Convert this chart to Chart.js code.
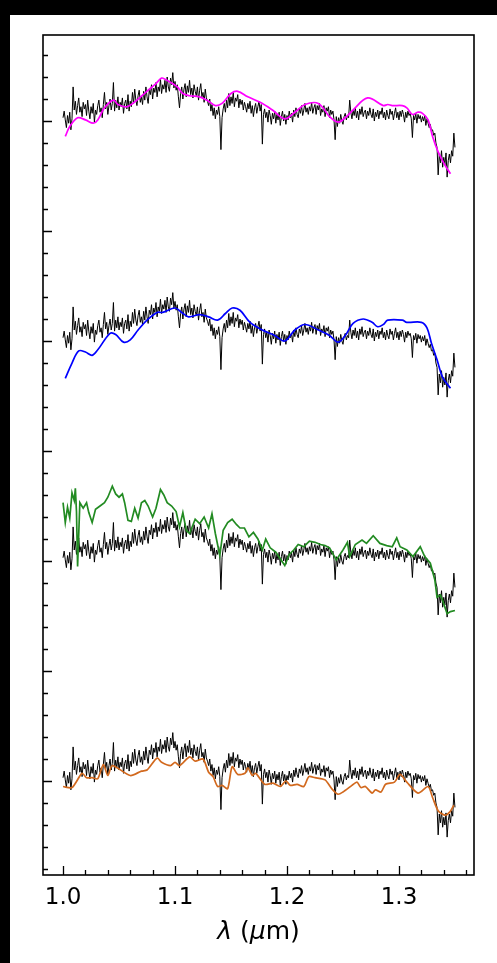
<!DOCTYPE html>
<html>
<head>
<meta charset="utf-8">
<script src="https://cdn.jsdelivr.net/npm/chart.js@4/dist/chart.umd.min.js"></script>
<style>
  html, body { margin: 0; padding: 0; background: #000; }
  #wrap { position: absolute; left: 10px; top: 15px; width: 487px; height: 948px; background: #fff; }
</style>
</head>
<body>
<div id="wrap"><canvas id="spec" width="487" height="948"></canvas></div>
<script>
// observed spectrum, sampled every 0.001 um from 1.000 um (one row per 0.01 um)
const obsStart = 1.0;
const obsStep = 0.001;
const obsFlux = [
  0.03, 0.09, 0.01, -0.06, 0.05, -0.02, 0.08, -0.08, 0.02, 0.31,
  0.10, 0.18, 0.06, 0.14, 0.21, 0.08, 0.13, 0.04, 0.17, 0.11,
  0.15, 0.05, 0.19, 0.09, 0.02, 0.13, 0.07, 0.16, -0.01, 0.10,
  0.06, 0.14, 0.19, 0.08, 0.12, 0.03, 0.15, 0.26, 0.11, 0.17,
  0.06, 0.14, 0.20, 0.10, 0.16, 0.35, 0.09, 0.19, 0.12, 0.22,
  0.10, 0.17, 0.13, 0.21, 0.07, 0.16, 0.19, 0.11, 0.24, 0.09,
  0.18, 0.13, 0.26, 0.16, 0.29, 0.19, 0.14, 0.23, 0.28, 0.17,
  0.22, 0.15, 0.27, 0.19, 0.31, 0.22, 0.16, 0.28, 0.24, 0.33,
  0.20, 0.30, 0.26, 0.35, 0.22, 0.31, 0.27, 0.38, 0.25, 0.33,
  0.29, 0.37, 0.26, 0.40, 0.31, 0.27, 0.39, 0.33, 0.44, 0.30,
  0.36, 0.28, 0.33, 0.22, 0.12, 0.25, 0.31, 0.20, 0.29, 0.34,
  0.22, 0.32, 0.26, 0.37, 0.24, 0.30, 0.21, 0.33, 0.27, 0.23,
  0.31, 0.19, 0.28, 0.34, 0.22, 0.26, 0.17, 0.29, 0.21, 0.18,
  0.14, 0.20, 0.09, 0.15, 0.05, 0.12, 0.02, 0.10, 0.06, 0.13,
  0.04, -0.26, 0.03, 0.11, 0.16, 0.08, 0.19, 0.12, 0.25, 0.14,
  0.22, 0.16, 0.26, 0.13, 0.21, 0.18, 0.24, 0.12, 0.20, 0.15,
  0.19, 0.10, 0.17, 0.13, 0.08, 0.16, 0.11, 0.18, 0.07, 0.14,
  0.04, 0.12, 0.16, 0.07, 0.13, 0.18, 0.09, 0.15, -0.21, 0.06,
  0.11, 0.03, 0.08, -0.01, 0.10, 0.05, -0.03, 0.07, 0.02, 0.09,
  -0.02, 0.06, 0.01, 0.08, -0.04, 0.04, 0.09, 0.00, 0.06, -0.03,
  0.05, 0.01, 0.09, 0.03, 0.07, -0.01, 0.10, 0.04, 0.12, 0.06,
  0.03, 0.11, 0.07, 0.14, 0.05, 0.10, 0.16, 0.08, 0.12, 0.06,
  0.13, 0.09, 0.17, 0.07, 0.12, 0.15, 0.06, 0.14, 0.10, 0.16,
  0.05, 0.11, 0.08, 0.14, 0.04, 0.12, 0.09, 0.13, 0.03, 0.10,
  0.06, 0.09, 0.01, -0.17, 0.04, -0.05, 0.03, -0.02, 0.06, 0.00,
  -0.03, 0.04, 0.07, 0.01, 0.05, 0.03, 0.19, 0.08, 0.02, 0.10,
  0.05, 0.12, 0.03, 0.09, 0.01, 0.11, 0.06, 0.13, 0.04, 0.08,
  0.10, 0.02, 0.09, 0.05, 0.12, 0.06, 0.03, 0.11, 0.00, 0.08,
  0.04, 0.10, 0.02, 0.09, 0.06, 0.12, 0.03, 0.08, 0.01, 0.10,
  0.05, 0.02, 0.11, 0.06, 0.09, 0.01, 0.07, 0.12, 0.03, 0.08,
  0.01, 0.09, 0.04, 0.10, 0.06, -0.01, 0.08, 0.03, 0.09, 0.05,
  0.07, 0.02, -0.15, 0.05, 0.01, 0.07, -0.02, 0.06, 0.02, 0.05,
  -0.01, 0.04, 0.00, 0.05, -0.04, 0.02, -0.02, -0.06, -0.03, -0.09,
  -0.08, -0.13, -0.11, -0.20, -0.24, -0.49, -0.30, -0.38, -0.27, -0.42,
  -0.33, -0.40, -0.29, -0.51, -0.36, -0.30, -0.38, -0.27, -0.32, -0.11, -0.24
];

// model spectra (wavelength in um, flux before offset)
const magentaWave = [1.002, 1.006, 1.013, 1.020, 1.027, 1.031, 1.037, 1.045, 1.049, 1.057,
  1.066, 1.076, 1.082, 1.088, 1.091, 1.102, 1.107, 1.113, 1.122, 1.130, 1.136, 1.142, 1.150,
  1.156, 1.165, 1.176, 1.187, 1.198, 1.207, 1.216, 1.228, 1.238, 1.2455, 1.252, 1.258, 1.272,
  1.286, 1.290, 1.294, 1.303, 1.307, 1.312, 1.317, 1.321, 1.326, 1.330, 1.335, 1.341, 1.346];
const magentaFlux = [-0.14, -0.05, 0.03, 0.01, -0.02, 0.01, 0.12, 0.19, 0.15, 0.13,
  0.19, 0.28, 0.33, 0.39, 0.38, 0.31, 0.25, 0.23, 0.22, 0.18, 0.14, 0.16, 0.25,
  0.27, 0.22, 0.17, 0.10, 0.02, 0.08, 0.15, 0.16, 0.04, -0.01, 0.03, 0.09, 0.21,
  0.14, 0.15, 0.14, 0.14, 0.12, 0.06, 0.08, 0.07, 0.01, -0.14, -0.28, -0.40, -0.48];

const blueWave = [1.002, 1.008, 1.014, 1.020, 1.026, 1.031, 1.042, 1.047, 1.054, 1.060,
  1.067, 1.075, 1.084, 1.089, 1.100, 1.106, 1.112, 1.122, 1.130, 1.138, 1.145, 1.151, 1.158,
  1.167, 1.178, 1.189, 1.198, 1.207, 1.216, 1.228, 1.238, 1.2455, 1.252, 1.259, 1.268, 1.276,
  1.281, 1.286, 1.290, 1.303, 1.307, 1.320, 1.325, 1.329, 1.334, 1.339, 1.346];
const blueFlux = [-0.34, -0.20, -0.09, -0.10, -0.13, -0.08, 0.07, 0.06, -0.01, 0.01,
  0.10, 0.19, 0.26, 0.26, 0.30, 0.26, 0.22, 0.24, 0.22, 0.19, 0.25, 0.30, 0.28,
  0.17, 0.10, 0.05, 0.00, 0.10, 0.15, 0.10, 0.05, -0.01, 0.05, 0.16, 0.20, 0.17,
  0.13, 0.15, 0.19, 0.19, 0.17, 0.17, 0.12, -0.02, -0.17, -0.33, -0.43];

const greenWave = [1.000, 1.002, 1.004, 1.006, 1.008, 1.010, 1.011, 1.012, 1.013, 1.015,
  1.018, 1.021, 1.023, 1.026, 1.029, 1.033, 1.037, 1.040, 1.044, 1.047, 1.050, 1.053, 1.055,
  1.058, 1.061, 1.064, 1.067, 1.070, 1.073, 1.076, 1.080, 1.083, 1.087, 1.090, 1.093, 1.097,
  1.101, 1.104, 1.107, 1.110, 1.113, 1.118, 1.122, 1.126, 1.130, 1.133, 1.136, 1.140, 1.143,
  1.147, 1.151, 1.155, 1.158, 1.162, 1.166, 1.170, 1.174, 1.178, 1.181, 1.185, 1.190, 1.194,
  1.198, 1.202, 1.206, 1.210, 1.215, 1.220, 1.225, 1.230, 1.234, 1.238, 1.244, 1.250, 1.254,
  1.256, 1.261, 1.267, 1.271, 1.277, 1.283, 1.289, 1.294, 1.298, 1.301, 1.307, 1.3125, 1.319,
  1.323, 1.328, 1.332, 1.334, 1.337, 1.339, 1.343, 1.346, 1.350];
const greenFlux = [0.53, 0.35, 0.49, 0.39, 0.62, 0.55, 0.66, 0.45, -0.05, 0.53,
  0.48, 0.53, 0.44, 0.35, 0.47, 0.50, 0.53, 0.58, 0.68, 0.61, 0.58, 0.61, 0.53,
  0.37, 0.36, 0.48, 0.39, 0.53, 0.55, 0.50, 0.40, 0.48, 0.65, 0.60, 0.53, 0.50,
  0.45, 0.31, 0.44, 0.28, 0.25, 0.38, 0.34, 0.40, 0.30, 0.43, 0.25, 0.05, 0.28,
  0.35, 0.38, 0.33, 0.30, 0.30, 0.22, 0.26, 0.20, 0.10, 0.20, 0.12, 0.08, 0.02,
  -0.04, 0.06, 0.10, 0.15, 0.13, 0.18, 0.17, 0.15, 0.14, 0.12, 0.01, 0.10, 0.17,
  0.04, 0.15, 0.19, 0.16, 0.23, 0.16, 0.14, 0.13, 0.21, 0.13, 0.10, 0.04, 0.13,
  0.04, -0.02, -0.17, -0.33, -0.31, -0.36, -0.48, -0.46, -0.45];

const orangeWave = [1.000, 1.008, 1.017, 1.021, 1.026, 1.031, 1.036, 1.040, 1.044, 1.060,
  1.070, 1.075, 1.084, 1.088, 1.096, 1.100, 1.104, 1.113, 1.118, 1.125, 1.130, 1.134, 1.138,
  1.142, 1.147, 1.151, 1.156, 1.1625, 1.165, 1.169, 1.172, 1.180, 1.1875, 1.194, 1.199, 1.203,
  1.209, 1.215, 1.2195, 1.225, 1.234, 1.240, 1.2455, 1.250, 1.258, 1.2625, 1.266, 1.270, 1.276,
  1.279, 1.284, 1.288, 1.296, 1.301, 1.307, 1.317, 1.326, 1.330, 1.335, 1.341, 1.3455, 1.349];
const orangeFlux = [-0.05, -0.06, 0.07, 0.03, 0.03, 0.02, 0.15, 0.05, 0.14, 0.05,
  0.09, 0.10, 0.21, 0.17, 0.14, 0.17, 0.14, 0.22, 0.18, 0.20, 0.08, 0.04, -0.05,
  -0.04, -0.07, 0.13, 0.06, 0.07, 0.12, 0.05, 0.07, -0.03, -0.02, -0.05, 0.00, -0.04,
  -0.03, -0.05, 0.04, 0.03, 0.01, -0.07, -0.12, -0.10, -0.04, -0.01, -0.06, -0.05, -0.11,
  -0.08, -0.10, -0.03, -0.01, 0.06, -0.01, -0.11, -0.05, -0.15, -0.27, -0.31, -0.28, -0.22];

// vertical offset of each panel, top to bottom
const panelOffsets = [6, 4, 2, 0];
const modelColors = ['#ff00ff', '#0000ff', '#228b22', '#d2691e'];

// axis ticks
const xMajor = [1.0, 1.1, 1.2, 1.3];
const xMinor = [1.02, 1.04, 1.06, 1.08, 1.12, 1.14, 1.16, 1.18, 1.22, 1.24, 1.26, 1.28, 1.32, 1.34, 1.36];
const yMajor = [0, 1, 2, 3, 4, 5, 6];
const yMinor = [-0.8, -0.6, -0.4, -0.2, 0.2, 0.4, 0.6, 0.8, 1.2, 1.4, 1.6, 1.8, 2.2, 2.4, 2.6, 2.8,
  3.2, 3.4, 3.6, 3.8, 4.2, 4.4, 4.6, 4.8, 5.2, 5.4, 5.6, 5.8, 6.2, 6.4, 6.6];

const toPoints = (wave, flux, off) => wave.map((w, i) => ({ x: w, y: flux[i] + off }));
const obsPoints = off => obsFlux.map((f, i) => ({ x: obsStart + i * obsStep, y: f + off }));

const models = [
  [magentaWave, magentaFlux, 0.35],
  [blueWave, blueFlux, 0.35],
  [greenWave, greenFlux, 0],
  [orangeWave, orangeFlux, 0.25]
];

const datasets = [];
models.forEach(([w, f, tension], i) => {
  datasets.push({
    data: toPoints(w, f, panelOffsets[i]),
    borderColor: modelColors[i],
    borderWidth: 1.7,
    pointRadius: 0,
    tension: tension,
    order: 0
  });
  datasets.push({
    data: obsPoints(panelOffsets[i]),
    borderColor: '#000',
    borderWidth: 1,
    pointRadius: 0,
    tension: 0,
    order: 1
  });
});

// matplotlib style frame with inward ticks and the x label
const frameTicks = {
  id: 'frameTicks',
  afterDraw(chart) {
    const { ctx, chartArea: a, scales: { x, y } } = chart;
    ctx.save();
    ctx.strokeStyle = '#000';
    ctx.lineWidth = 1.3;
    ctx.beginPath();
    xMajor.forEach(v => { const p = Math.round(x.getPixelForValue(v)) + 0.5; ctx.moveTo(p, a.bottom); ctx.lineTo(p, a.bottom - 9); });
    xMinor.forEach(v => { const p = Math.round(x.getPixelForValue(v)) + 0.5; ctx.moveTo(p, a.bottom); ctx.lineTo(p, a.bottom - 5); });
    yMajor.forEach(v => { const p = Math.round(y.getPixelForValue(v)) + 0.5; ctx.moveTo(a.left, p); ctx.lineTo(a.left + 9, p); });
    yMinor.forEach(v => { const p = Math.round(y.getPixelForValue(v)) + 0.5; ctx.moveTo(a.left, p); ctx.lineTo(a.left + 5, p); });
    ctx.stroke();
    ctx.lineWidth = 1.6;
    ctx.strokeRect(a.left, a.top, a.right - a.left, a.bottom - a.top);

    // x label: italic lambda and mu as in math text
    const parts = [['λ', 'italic'], [' (', 'normal'], ['μ', 'italic'], ['m)', 'normal']];
    const size = 25;
    let total = 0;
    parts.forEach(p => { ctx.font = `${p[1]} ${size}px "DejaVu Sans"`; p.push(ctx.measureText(p[0]).width); total += p[2]; });
    let cx = (a.left + a.right) / 2 - total / 2;
    ctx.fillStyle = '#000';
    ctx.textBaseline = 'middle';
    ctx.textAlign = 'left';
    parts.forEach(p => { ctx.font = `${p[1]} ${size}px "DejaVu Sans"`; ctx.fillText(p[0], cx, 917); cx += p[2]; });
    ctx.restore();
  }
};

new Chart(document.getElementById('spec'), {
  type: 'line',
  data: { datasets },
  options: {
    responsive: false,
    animation: false,
    layout: { padding: { left: 33, top: 20, right: 23, bottom: 0 } },
    plugins: { legend: { display: false }, tooltip: { enabled: false } },
    scales: {
      x: {
        type: 'linear',
        min: 0.9821,
        max: 1.3670,
        grid: { display: false, drawTicks: false },
        border: { display: false },
        afterBuildTicks: s => { s.ticks = xMajor.map(v => ({ value: v })); },
        afterFit: s => { s.height = 88; },
        ticks: {
          color: '#000',
          padding: 9,
          maxRotation: 0,
          font: { family: 'DejaVu Sans', size: 23 },
          callback: v => v.toFixed(1)
        }
      },
      y: {
        display: false,
        min: -0.8545,
        max: 6.782
      }
    }
  },
  plugins: [frameTicks]
});
</script>
</body>
</html>
